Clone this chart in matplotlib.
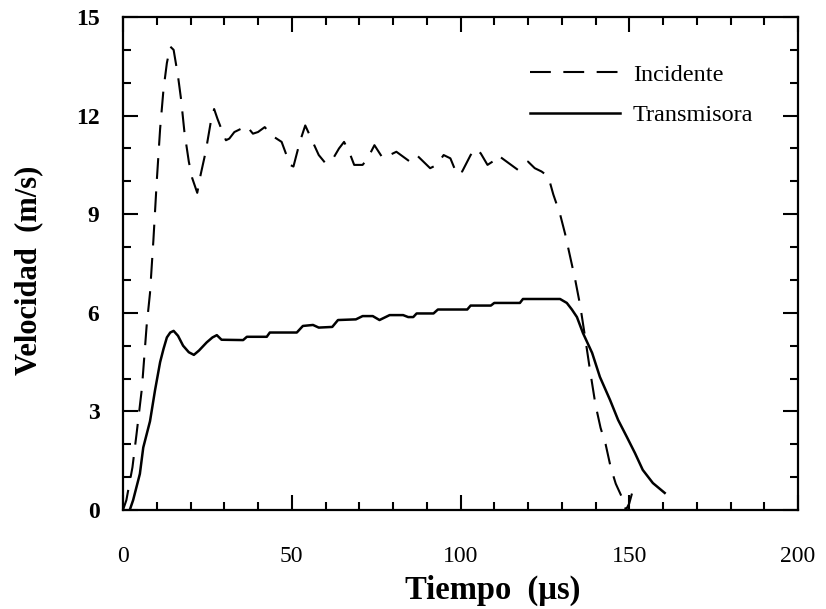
import matplotlib
matplotlib.use("Agg")
import matplotlib.pyplot as plt
from matplotlib.ticker import MultipleLocator

plt.rcParams['font.family'] = ['Liberation Serif', 'DejaVu Serif']

# Incidente (dashed)
t_inc = [0, 1, 2.8, 4, 5.6, 7, 8, 9, 10, 11, 12, 13, 14, 15, 16.3, 17.2, 18.2,
         19.5, 20.5, 22, 23, 24.5, 26, 27, 28, 29.5, 30.5, 31.5, 33, 35, 36.5,
         38.5, 40, 42, 44, 45.5, 47, 49.5, 50.5, 52.4, 54, 56, 58, 60, 62, 64,
         65.5, 67, 68.5, 71, 72.5, 74.5, 77, 79, 81, 83, 85, 87, 89, 91, 93, 95,
         97, 99, 100.5, 103, 104.5, 106, 108, 109.5, 111, 113, 115, 117, 118.5,
         120, 122, 124, 126, 127.5, 129.5, 131, 132.5, 134, 135.5, 137, 138.3,
         140, 141.5, 143, 144.5, 146, 148, 149, 150, 150.8]
v_inc = [0, 0.3, 1.3, 2.3, 3.7, 5.6, 6.6, 8.2, 10.0, 11.6, 12.8, 13.6, 14.1,
         14.0, 13.2, 12.5, 11.5, 10.6, 10.1, 9.65, 10.2, 10.9, 11.8, 12.2, 11.9,
         11.5, 11.25, 11.3, 11.5, 11.6, 11.7, 11.45, 11.5, 11.65, 11.4, 11.3,
         11.2, 10.5, 10.45, 11.2, 11.7, 11.25, 10.8, 10.55, 10.65, 11.0, 11.2,
         10.9, 10.5, 10.5, 10.7, 11.1, 10.7, 10.8, 10.9, 10.75, 10.6, 10.8, 10.6,
         10.4, 10.5, 10.8, 10.7, 10.2, 10.3, 10.8, 11.0, 10.85, 10.5, 10.6, 10.8,
         10.65, 10.5, 10.35, 10.5, 10.6, 10.4, 10.3, 10.15, 9.6, 9.0, 8.4, 7.7,
         7.0, 6.2, 5.2, 4.3, 3.2, 2.5, 2.0, 1.3, 0.8, 0.35, 0.0, 0.2, 0.5]

# Transmisora (solid)
t_tra = [2, 3, 5, 6, 8, 9.5, 11, 12, 13, 14, 15, 16.3, 17.8, 19.5, 21, 22.5,
         24.8, 26.5, 27.8, 29.2, 35.6, 36.7, 42.6, 43.5, 51.5, 53.3, 56.3, 58,
         62, 63.7, 69, 71, 74, 76, 79, 83, 84.5, 86, 87, 92, 93.3, 102, 103,
         109, 110, 117.6, 118.5, 129.5, 131.5, 133, 134.5, 136.3, 139, 141.3,
         144.3, 146.7, 149.3, 151.7, 154, 157, 160.5]
v_tra = [0, 0.3, 1.1, 1.9, 2.7, 3.65, 4.5, 4.9, 5.25, 5.4, 5.45, 5.3, 5.0, 4.8,
         4.72, 4.85, 5.1, 5.25, 5.32, 5.18, 5.17, 5.27, 5.27, 5.4, 5.4, 5.6,
         5.63, 5.55, 5.57, 5.78, 5.8, 5.9, 5.9, 5.78, 5.93, 5.93, 5.87, 5.87,
         5.98, 5.98, 6.1, 6.1, 6.22, 6.22, 6.3, 6.3, 6.42, 6.42, 6.3, 6.1, 5.87,
         5.38, 4.78, 4.05, 3.35, 2.74, 2.22, 1.73, 1.22, 0.82, 0.52]

labels = ['Incidente', 'Transmisora']
x_ticks = [0, 50, 100, 150, 200]
y_ticks = [0, 3, 6, 9, 12, 15]

fig = plt.figure(figsize=(8.26, 6.09), dpi=100)
ax = fig.add_axes([123/826, 1 - 510/609, 675/826, 493/609])

ax.plot(t_inc, v_inc, color='black', lw=1.5, linestyle=(0, (10, 6)), label=labels[0])
ax.plot(t_tra, v_tra, color='black', lw=1.8, label=labels[1])

ax.set_xlim(0, 200)
ax.set_ylim(0, 15)
ax.set_xticks(x_ticks)
ax.set_yticks(y_ticks)
ax.xaxis.set_minor_locator(MultipleLocator(10))
ax.yaxis.set_minor_locator(MultipleLocator(1))
ax.tick_params(which='both', direction='in', top=True, right=True, width=1.5, color='black')
ax.tick_params(which='major', length=11)
ax.tick_params(which='minor', length=5.5)
ax.tick_params(axis='x', which='major', pad=26, labelsize=17)
ax.tick_params(axis='y', which='major', pad=17, labelsize=17)
for lab in ax.get_yticklabels():
    lab.set_fontweight('bold')
for s in ax.spines.values():
    s.set_linewidth(1.6)

ax.set_xlabel('Tiempo  (µs)', fontsize=23.5, fontweight='bold')
ax.set_ylabel('Velocidad  (m/s)', fontsize=22, fontweight='bold')
ax.xaxis.set_label_coords(0.548, -0.132)
ax.yaxis.set_label_coords(-0.118, 0.487)

leg = ax.legend(loc='upper left', bbox_to_anchor=(0.603, 0.905), frameon=False,
                fontsize=17.5, handlelength=3.7, handletextpad=0.53,
                labelspacing=0.75, borderpad=0, borderaxespad=0)

fig.savefig('out.png', dpi=100)
